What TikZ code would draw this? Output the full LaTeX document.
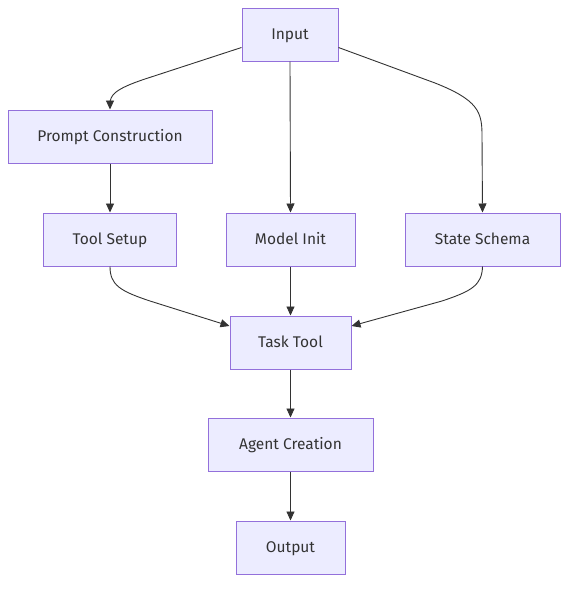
\documentclass[tikz,border=0pt]{standalone}
\usepackage{fontspec}
\setmainfont{Fira Sans}
\usetikzlibrary{arrows.meta}
\definecolor{boxfill}{HTML}{ECECFF}
\definecolor{boxline}{HTML}{9370DB}
\definecolor{txt}{HTML}{333333}
\begin{document}
\begin{tikzpicture}[x=1pt,y=-1pt,
  box/.style={draw=boxline,fill=boxfill,line width=1pt,inner sep=0pt,
    minimum height=53pt,text=txt,font=\fontsize{15.5}{18}\selectfont,
    text height=0.9em,text depth=0pt},
  conn/.style={draw=txt,line width=0.9pt,-{Triangle[length=9pt,width=8pt]}}]
\useasboundingbox (0,0) rectangle (576,590);
\node[box,minimum width=96pt] (in) at (290,34.5) {Input};
\node[box,minimum width=204pt] (pc) at (110,136.5) {Prompt Construction};
\node[box,minimum width=133pt] (ts) at (110,239.5) {Tool Setup};
\node[box,minimum width=129pt] (mi) at (290.5,239.5) {Model Init};
\node[box,minimum width=155pt] (ss) at (482.5,239.5) {State Schema};
\node[box,minimum width=121pt] (tt) at (290.5,342.5) {Task Tool};
\node[box,minimum width=165pt] (ac) at (290.5,444.5) {Agent Creation};
\node[box,minimum width=109pt] (out) at (290.5,547.5) {Output};
\coordinate (inL) at ([yshift=-13pt]in.west);
\coordinate (inR) at ([yshift=-13pt]in.east);
\coordinate (ttL) at ([yshift=16.5pt]tt.west);
\coordinate (ttR) at ([yshift=16.5pt]tt.east);
\draw[conn] (inL) -- (145,79) .. controls (115,89) and (110,95) .. (110,104) -- (pc.north);
\draw[conn] (inR) -- (435,83) .. controls (478,100) and (482,112) .. (482,135) -- (ss.north);
\draw[conn] (pc) -- (ts);
\draw[conn] (in.south) -- (mi.north);
\draw[conn] (ts.south) .. controls (110,285) and (120,291) .. (150,301) -- (ttL);
\draw[conn] (ss.south) .. controls (482,285) and (472,291) .. (442,301) -- (ttR);
\draw[conn] (mi) -- (tt);
\draw[conn] (tt) -- (ac);
\draw[conn] (ac) -- (out);
\end{tikzpicture}
\end{document}
